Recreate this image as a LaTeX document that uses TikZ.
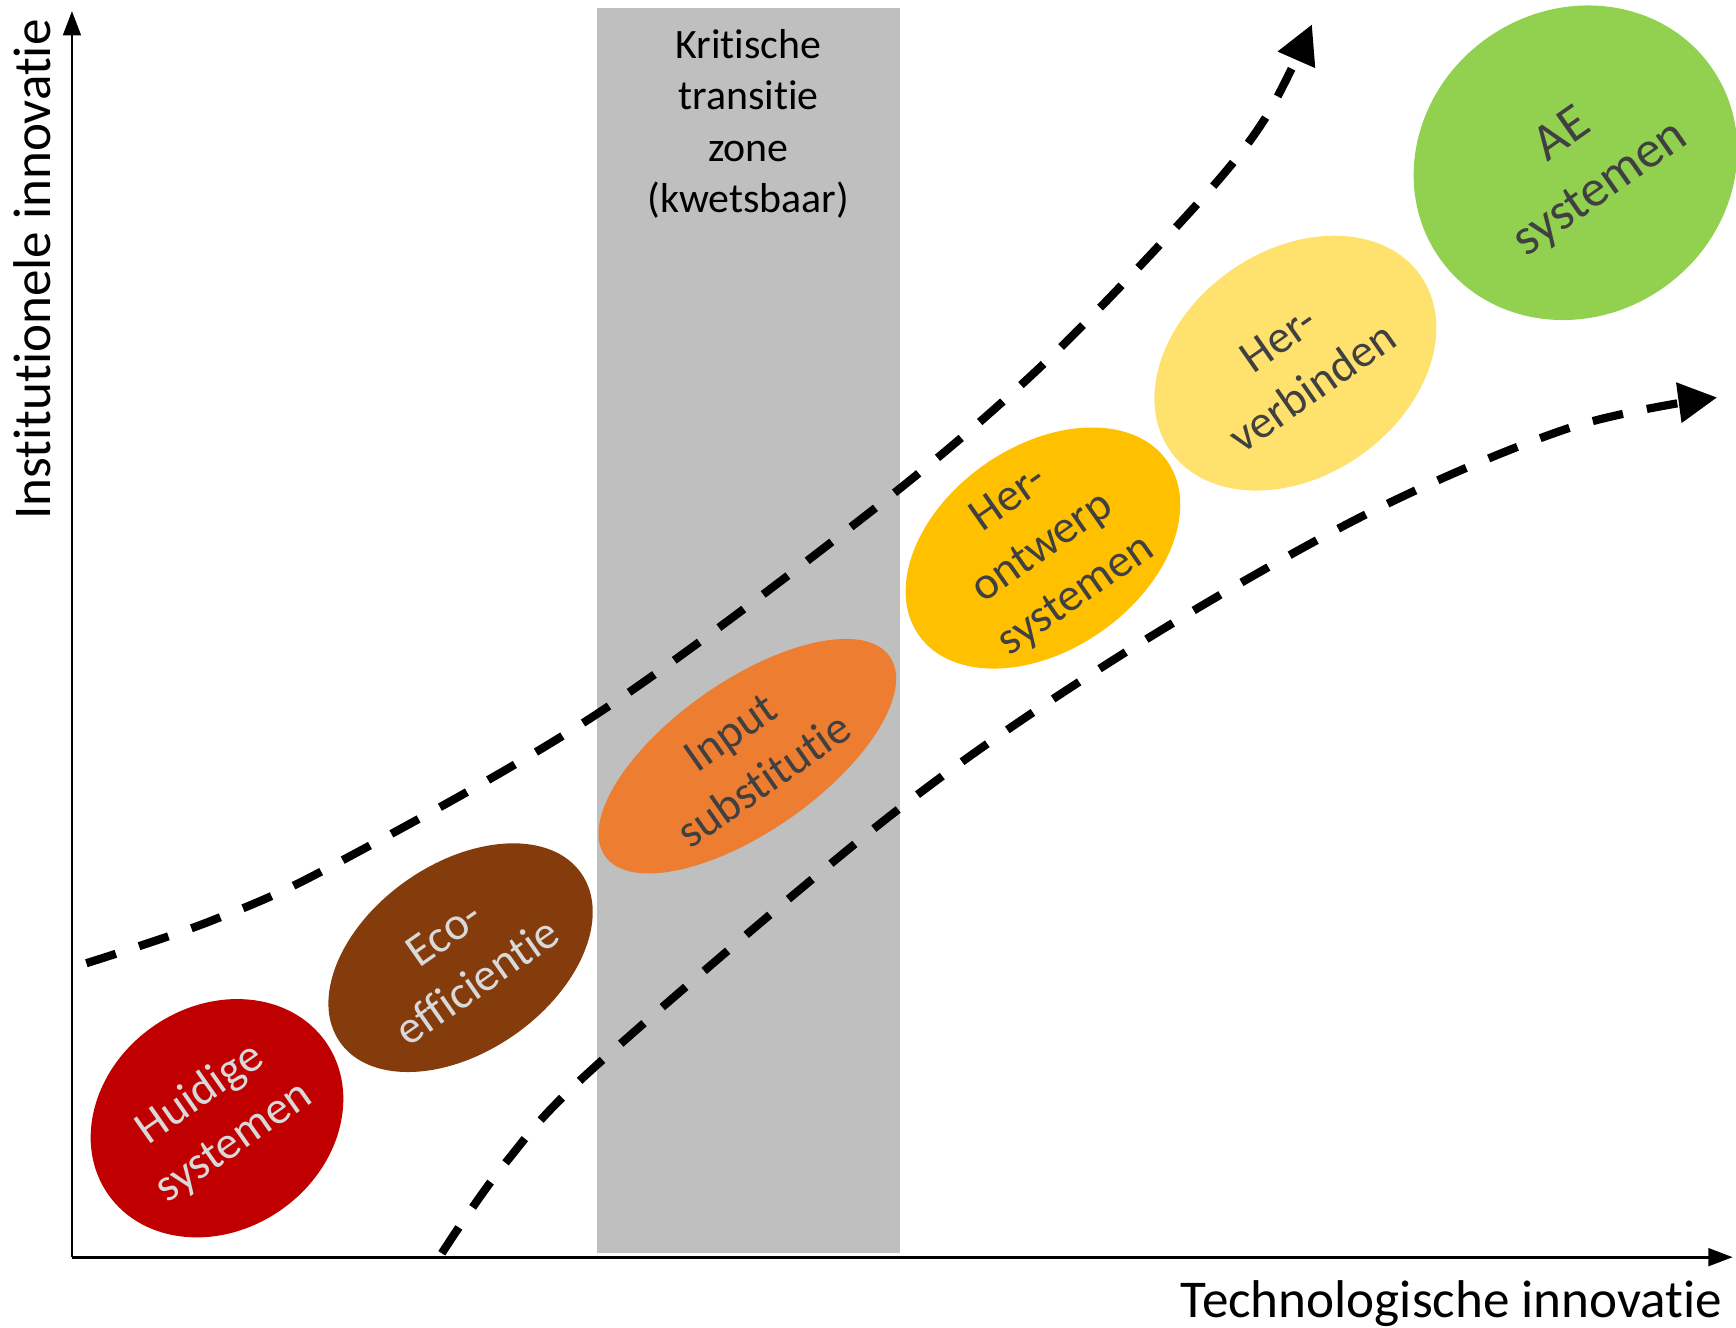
\documentclass[tikz,border=0pt]{standalone}
\usepackage{fontspec}
\setmainfont[Ligatures={NoCommon,NoContextual,NoRare}]{Carlito}
\usetikzlibrary{arrows.meta,shapes.geometric}
\definecolor{zonegray}{HTML}{BFBFBF}
\definecolor{cred}{HTML}{C00000}
\definecolor{cbrown}{HTML}{843C0C}
\definecolor{corange}{HTML}{ED7D31}
\definecolor{cgold}{HTML}{FFC000}
\definecolor{cyellow}{HTML}{FFE26E}
\definecolor{cgreen}{HTML}{92D050}
\definecolor{tdark}{HTML}{404040}
\definecolor{tlight}{HTML}{D9D9D9}
\begin{document}
\begin{tikzpicture}[x=0.5pt,y=-0.5pt,
  blob/.style={ellipse, inner sep=0pt, draw=none, rotate=35},
  blobtext/.style={rotate=35, align=center, inner sep=0pt, font=\fontsize{21}{26.5}\selectfont},
  bigblobtext/.style={blobtext, font=\fontsize{23.5}{29.5}\selectfont},
  axis/.style={line width=1.2pt, -{Triangle[length=11pt,width=8pt]}},
  trend/.style={line width=3.7pt, dash pattern=on 14pt off 11pt, -{Triangle[length=17.5pt,width=17.5pt]}},
  axislabel/.style={inner sep=0pt, font=\fontsize{24}{29}\selectfont}]
\useasboundingbox (0,0) rectangle (1568,1199);
% critical transition zone
\fill[zonegray] (539,7.5) rectangle (813,1132);
\node[anchor=north, align=center, inner sep=0pt, font=\fontsize{18.9}{23.2}\selectfont] (zonetext) at (676,26)
  {Kritische\\transitie\\zone\\(kwetsbaar)};
% ellipses
\node[blob, fill=cred,    minimum width=120pt, minimum height=101pt] (e1) at (196,1010) {};
\node[blob, fill=cbrown,  minimum width=133pt, minimum height=85pt]  (e2) at (416,865) {};
\node[blob, fill=corange, minimum width=157pt, minimum height=68pt]  (e3) at (675,683) {};
\node[blob, fill=cgold,   minimum width=137pt, minimum height=92pt]  (e4) at (942,495) {};
\node[blob, fill=cyellow, minimum width=138pt, minimum height=102pt] (e5) at (1170,328) {};
\node[blob, fill=cgreen,  minimum width=150pt, minimum height=138pt] (e6) at (1423,147) {};
\node[blobtext, text=tlight] (t1) at (e1.center) {Huidige\\systemen};
\node[blobtext, text=tlight] (t2) at (e2.center) {Eco-\\efficientie};
\node[blobtext, text=tdark]  (t3) at (e3.center) {Input\\substitutie};
\node[blobtext, text=tdark]  (t4) at (e4.center) {Her-\\ontwerp\\systemen};
\node[blobtext, text=tdark]  (t5) at (e5.center) {Her-\\verbinden};
\node[bigblobtext, text=tdark] (t6) at ([xshift=3pt]e6.center) {AE\\systemen};
% trend curves
\coordinate (u0) at (78,870);
\coordinate (u1) at (190,832);
\coordinate (u2) at (300,782);
\coordinate (u3) at (539,645);
\coordinate (u4) at (784,464);
\coordinate (u5) at (937,334);
\coordinate (u6) at (1078,188);
\coordinate (u7) at (1142,108);
\coordinate (u8) at (1185,22);
\draw[trend] plot[smooth, tension=0.55] coordinates {(u0) (u1) (u2) (u3) (u4) (u5) (u6) (u7) (u8)};
\coordinate (l0) at (399,1132);
\coordinate (l1) at (456,1051);
\coordinate (l2) at (539,962);
\coordinate (l3) at (805,736);
\coordinate (l4) at (1012,592);
\coordinate (l5) at (1231,466);
\coordinate (l6) at (1416,387);
\coordinate (l7) at (1551,359);
\draw[trend] plot[smooth, tension=0.55] coordinates {(l0) (l1) (l2) (l3) (l4) (l5) (l6) (l7)};
% axes
\coordinate (O) at (65,1135.5);
\coordinate (ytip) at (65,10);
\coordinate (xtip) at (1565,1135.5);
\draw[axis] (O) -- (ytip);
\draw[axis] (O) -- (xtip);
\node[axislabel, rotate=90, anchor=base west] (ylab) at (46,470) {Institutionele innovatie};
\node[axislabel, anchor=base east] (xlab) at (1556,1190) {Technologische innovatie};
\end{tikzpicture}
\end{document}
